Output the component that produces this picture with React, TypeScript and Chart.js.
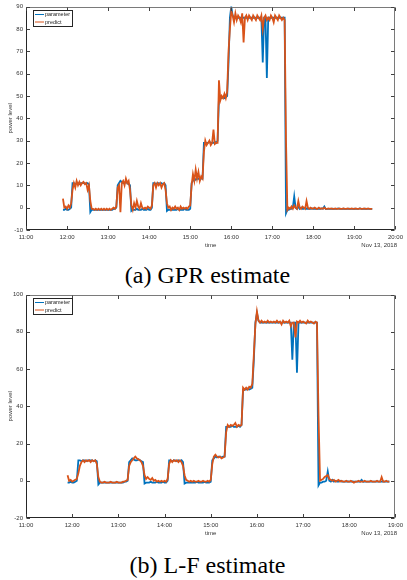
import React, { useEffect, useRef } from "react";
import { Chart, registerables } from "chart.js";

Chart.register(...registerables);

// Sample times: minutes after 11:00, one reading every 2 minutes starting 11:54
const START_MIN = 54;
const STEP_MIN = 2;

const seriesLabels = ["parameter", "predict"];
const xTickHoursA = [11, 12, 13, 14, 15, 16, 17, 18, 19, 20];
const xTickHoursB = [11, 12, 13, 14, 15, 16, 17, 18, 19];
const dateLabel = "Nov 13, 2018";
const xTitle = "time";
const yTitle = "power level";
const captionA = "(a) GPR estimate";
const captionB = "(b) L-F estimate";

// measured power level (shared by both panels)
const parameter = [
  -1, -1, -0.5, -1, -1, -0.5, 0, 11, 11, 10.5, 11, 11, 10.5, 11, 11,
  11, 11, 10.5, 11, 10.5, -2, -1, -1, -1, -1, -1, -1, -1, -1, -1,
  -1, -1, -1, -1, -1, -1, -1, -0.5, -0.5, 0, 10, 11, 12, 11.5, 11,
  11, 11.5, 11, 10.5, 10, -1.5, -1, -1, -1, -0.5, -1, -1, -1, -0.5, -1,
  -1, -1, -0.5, -1, -1, 0, 11, 11, 10.5, 11, 11, 10.5, 11, 10.5, 11,
  10, -1.5, -1, -1, -1, -1, -1, -1, -1, -0.5, -1, -1, -1, -1, -0.5,
  -1, -1, -1, -0.5, 11, 12, 13, 12.5, 13, 13, 12.5, 13, 13, 29, 29,
  29, 29, 29.5, 29, 29, 29, 29.5, 29, 30, 49, 49, 49, 49.5, 49, 49.5,
  50, 65, 85, 90, 86, 85, 85, 85, 85, 85, 85, 85, 85, 85, 85,
  85, 85, 85, 85, 85, 85, 85, 85, 85, 85, 85, 65, 85, 85, 58,
  85, 85, 85, 85, 85, 85, 85, 85, 85, 85, 85, 85, 85, -2.5, -1,
  -1, -0.5, -0.5, 0, 5, 0, -0.5, 0.5, -0.5, 0, -0.5, -0.5, 0, -0.5, -0.5,
  -0.5, -0.5, -0.3, -0.5, -0.5, -0.4, -0.5, -0.5, -0.5, -0.3, -0.5, 0.5, -0.6, -0.5, -0.5,
  -0.5, -0.5, -0.4, -0.5, -0.5, -0.5, -0.3, -0.5, -0.5, -0.5, -0.4, -0.5, -0.5, -0.5, -0.4,
  -0.5, -0.5, -0.5, -0.4, -0.5, -0.5, -0.5, -0.3, -0.5, -0.5, -0.5, -0.4, -0.5, -0.5, -0.5,
  -0.5, -0.5,
];

// GPR prediction (panel a)
const predictGPR = [
  4, 0, 0.5, -0.5, 1, 0, 2, 8, 11, 9, 12, 10, 11.5, 10, 11,
  11.5, 10.5, 11, 8, 10, 3, -0.5, -0.5, -1, -0.5, -1, -0.5, -1, -0.5, -1,
  -0.5, -1, -0.5, -1, -0.5, -1, -0.5, 0, -0.5, 0.5, 9, 10, -2, 11, 12,
  10, 13, 11, 12, 8, 1, -1, 2, 0, 3, 0.5, -0.5, 2, 0, -0.5,
  0, -0.5, 0.5, 0, -0.5, 1, 10, 11, 9, 11, 10, 11, 9, 10.5, 11,
  8, 2, 0, 0.5, -1, 0, -0.5, 0.5, -0.5, 0, -1, 0.5, -0.5, 0, -0.5,
  0, -0.5, 0.5, 1, 10, 15, 12, 17, 13, 16, 12, 14, 13, 25, 30,
  28, 29, 30, 28, 29, 35, 28.5, 29, 29, 57, 48, 50, 49, 51, 49,
  52, 70, 80, 88, 86, 83, 87, 84, 86, 85, 83, 87, 74, 85, 86,
  84, 86, 85, 84, 86, 85, 84, 86, 85, 84, 86, 80, 85, 86, 84,
  85, 84, 86, 85, 83, 86, 85, 84, 86, 85, 84, 85, 84, 30, -1,
  0, -0.5, 0.5, -0.5, 1, 0, -0.5, 3, 0, -0.5, 0.5, 0, -0.5, 3, 0,
  -0.5, 0, -0.5, -0.3, 0, -0.5, -0.5, 0, -0.5, -0.3, -0.5, 0, -0.5, -0.5, -0.3,
  -0.5, -0.3, -0.5, -0.5, -0.3, -0.5, -0.5, -0.3, -0.5, -0.5, -0.3, -0.5, -0.5, -0.3, -0.5,
  -0.5, -0.3, -0.5, -0.5, -0.3, -0.5, -0.5, -0.3, -0.5, -0.5, -0.3, -0.5, -0.5, -0.3, -0.5,
  -0.5, -0.5,
];

// L-F prediction (panel b, ends 18:52)
const predictLF = [
  3, 0, 0.5, -0.5, 0, 0.5, 1, 4, 8, 10, 11, 10, 11, 10.5, 11,
  10, 11, 10.5, 11, 9, 2, -0.5, -1, -1, -0.5, -1, -1, -1, -0.5, -1,
  -1, -1, -0.5, -1, -1, -1, -0.5, -0.5, 0, 0.5, 8, 10, 11, 12, 13,
  12, 11.5, 11, 10, 8, 3, 1, 2, 1, 0.5, 1.5, 0, 0.5, -0.5, 0,
  -0.5, 0, -0.5, 0, -0.5, 1, 9, 11, 10, 11, 10.5, 11, 10, 11, 10,
  8, 3, 0.5, 0, -0.5, 0, -0.5, 0, -0.5, -0.5, 0, -0.5, -0.5, 0, -0.5,
  -0.5, 0, -0.5, 0.5, 9, 13, 14, 13, 12.5, 13, 12, 12.5, 13, 26, 30,
  29, 30, 29.5, 30, 31, 29, 30, 29.5, 30, 50, 49, 50, 49, 50.5, 50,
  52, 68, 84, 91, 86, 85, 86, 85, 85.5, 85, 86, 85, 85.5, 85, 85.5,
  85, 86, 85, 85.5, 84, 86, 85, 85.5, 85, 86, 83, 85, 85, 77, 85.5,
  85, 86, 85, 85.5, 85, 84.5, 86, 85, 85.5, 85, 84.5, 85.5, 85, 35, 0,
  0.5, 1, 2, 2.5, 3, 1, 0.5, 0, 0.5, -0.5, 0, 0.5, -0.5, 0, -0.5,
  -0.5, 0, -0.5, -0.5, 0, -0.5, -1, -0.5, -0.5, 0, -0.5, -0.5, -0.5, 0, -0.5,
  -0.5, -0.5, 0, -0.5, -0.5, -0.5, 0, -0.5, -0.5, 2, -0.5, -0.5, 0, -0.5, -0.5,
];

const BLUE = "#0072BD";
const ORANGE = "#D95319";
const SANS = '"Liberation Sans", Arial, sans-serif';

function toPoints(values: number[]) {
  return values.map((v, i) => ({ x: START_MIN + i * STEP_MIN, y: v }));
}

const framePlugin = {
  id: "matlabFrame",
  afterDatasetsDraw(chart: any) {
    const { ctx, chartArea } = chart;
    const { left, right, top, bottom } = chartArea;
    const xs = chart.scales.x;
    const ys = chart.scales.y;
    const L = Math.round(left) + 0.5;
    const R = Math.round(right) - 0.5;
    const T = Math.round(top) + 0.5;
    const B = Math.round(bottom) - 0.5;
    ctx.save();
    ctx.lineWidth = 1;
    // box
    ctx.strokeStyle = "#7a7a7a";
    ctx.beginPath();
    ctx.moveTo(L, T); ctx.lineTo(R, T); ctx.lineTo(R, B);
    ctx.stroke();
    ctx.strokeStyle = "#262626";
    ctx.beginPath();
    ctx.moveTo(L, T); ctx.lineTo(L, B); ctx.lineTo(R, B);
    ctx.stroke();
    // inward ticks
    const tl = 3.5;
    ctx.strokeStyle = "#404040";
    ctx.beginPath();
    xs.ticks.forEach((t: any) => {
      const px = Math.round(xs.getPixelForValue(t.value)) + 0.5;
      ctx.moveTo(px, B); ctx.lineTo(px, B - tl);
      ctx.moveTo(px, T); ctx.lineTo(px, T + tl);
    });
    ys.ticks.forEach((t: any) => {
      const py = Math.round(ys.getPixelForValue(t.value)) + 0.5;
      ctx.moveTo(L, py); ctx.lineTo(L + tl, py);
      ctx.moveTo(R, py); ctx.lineTo(R - tl, py);
    });
    ctx.stroke();

    // legend box
    const lx = Math.round(left) + 7;
    const ly = Math.round(top) + 3;
    const lw = 39;
    const lh = 16;
    ctx.fillStyle = "#ffffff";
    ctx.fillRect(lx, ly, lw, lh);
    ctx.strokeStyle = "#262626";
    ctx.strokeRect(lx + 0.5, ly + 0.5, lw, lh);
    const colors = [BLUE, ORANGE];
    ctx.font = `5.5px ${SANS}`;
    ctx.textBaseline = "middle";
    ctx.textAlign = "left";
    seriesLabels.forEach((lab, i) => {
      const ry = ly + 4.5 + i * 7.5;
      ctx.strokeStyle = colors[i];
      ctx.lineWidth = 1;
      ctx.beginPath();
      ctx.moveTo(lx + 2, ry); ctx.lineTo(lx + 11, ry);
      ctx.stroke();
      ctx.fillStyle = "#222";
      ctx.fillText(lab, lx + 12, ry + 0.3);
    });

    // titles
    ctx.fillStyle = "#333";
    ctx.font = `6px ${SANS}`;
    ctx.textAlign = "center";
    ctx.textBaseline = "middle";
    ctx.fillText(xTitle, (left + right) / 2, bottom + 15);
    ctx.textAlign = "right";
    ctx.fillText(dateLabel, 397, bottom + 15);
    ctx.save();
    ctx.translate(10.5, (top + bottom) / 2);
    ctx.rotate(-Math.PI / 2);
    ctx.textAlign = "center";
    ctx.fillText(yTitle, 0, 0);
    ctx.restore();
    ctx.restore();
  },
};

function makeConfig(
  hours: number[],
  yMin: number,
  yMax: number,
  yStep: number,
  param: number[],
  pred: number[]
): any {
  const xMin = (hours[0] - 11) * 60;
  const xMax = (hours[hours.length - 1] - 11) * 60;
  return {
    type: "line",
    data: {
      datasets: [
        {
          label: seriesLabels[0],
          data: toPoints(param),
          borderColor: BLUE,
          borderWidth: 1.8,
          pointRadius: 0,
          tension: 0,
          order: 1,
        },
        {
          label: seriesLabels[1],
          data: toPoints(pred),
          borderColor: ORANGE,
          borderWidth: 1.8,
          pointRadius: 0,
          tension: 0,
          order: 0,
        },
      ],
    },
    options: {
      animation: false,
      responsive: false,
      events: [],
      layout: { padding: { top: 5, right: 5, left: 0, bottom: 0 }, autoPadding: false },
      plugins: { legend: { display: false }, tooltip: { enabled: false } },
      scales: {
        x: {
          type: "linear",
          min: xMin,
          max: xMax,
          grid: { display: false, drawTicks: false },
          border: { display: false },
          afterFit: (s: any) => { s.height = 22; },
          afterBuildTicks: (s: any) => {
            s.ticks = hours.map((h) => ({ value: (h - 11) * 60 }));
          },
          ticks: {
            autoSkip: false,
            maxRotation: 0,
            padding: 4,
            color: "#333",
            font: { size: 6, family: SANS },
            callback: (v: number) => `${11 + Math.round(v / 60)}:00`,
          },
        },
        y: {
          min: yMin,
          max: yMax,
          grid: { display: false, drawTicks: false },
          border: { display: false },
          afterFit: (s: any) => { s.width = 26; },
          ticks: {
            stepSize: yStep,
            padding: 3,
            color: "#333",
            font: { size: 6, family: SANS },
          },
        },
      },
    },
    plugins: [framePlugin],
  };
}

function Panel({ top, config }: { top: number; config: any }) {
  const ref = useRef<HTMLCanvasElement>(null);
  useEffect(() => {
    const chart = new Chart(ref.current as HTMLCanvasElement, config);
    return () => chart.destroy();
  }, []);
  return (
    <div style={{ position: "absolute", left: 0, top, width: 407, height: 252 }}>
      <canvas ref={ref} width={407} height={252} style={{ display: "block" }} />
    </div>
  );
}

const captionStyle: React.CSSProperties = {
  position: "absolute",
  left: 4,
  width: 407,
  textAlign: "center",
  fontFamily: '"Liberation Serif", "Times New Roman", serif',
  fontSize: 24,
  lineHeight: "24px",
  color: "#000",
  whiteSpace: "nowrap",
};

export default function App() {
  const cfgA = makeConfig(xTickHoursA, -10, 90, 10, parameter, predictGPR);
  const cfgB = makeConfig(xTickHoursB, -20, 100, 20, parameter.slice(0, predictLF.length), predictLF);
  return (
    <div style={{ position: "absolute", left: 0, top: 0, width: 407, height: 580, background: "#fff", overflow: "hidden" }}>
      <Panel top={0} config={cfgA} />
      <div style={{ ...captionStyle, top: 263 }}>{captionA}</div>
      <Panel top={288} config={cfgB} />
      <div style={{ ...captionStyle, top: 553 }}>{captionB}</div>
    </div>
  );
}
